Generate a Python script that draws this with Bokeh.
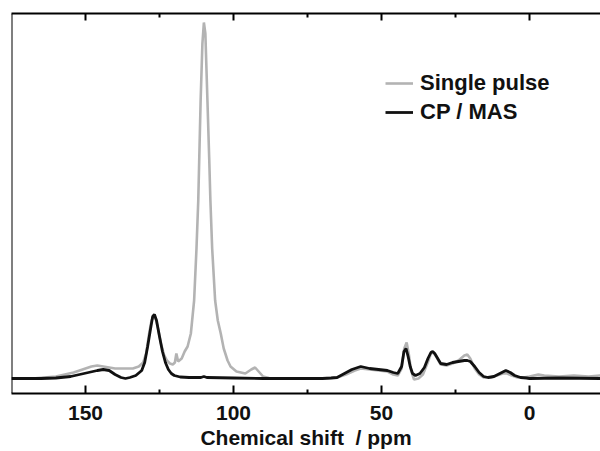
from bokeh.plotting import figure
from bokeh.models import Range1d, FixedTicker, Legend, LegendItem, Span, LinearAxis
from bokeh.embed import file_html
from bokeh.resources import INLINE

# Single pulse spectrum (ppm, intensity in arbitrary units)
sp_ppm = [175, 168, 164, 160, 157, 154, 151, 148, 146, 144, 142, 140, 137, 134, 132, 130.5, 129.5,
          128.5, 127.7, 127, 126.3, 125.5, 124.5, 123.5, 122.5, 121.5, 120.5, 119.8, 119.3, 118.7,
          117.5, 116.5, 115.5, 114.4, 113.3, 112.5, 111.9, 111.1, 110.5, 110.0, 109.5, 108.8, 108.2,
          107.8, 107.2, 106.2, 105.3, 104.3, 103.3, 102, 101, 99, 96, 94, 92.7, 91.5, 90, 88, 80, 70,
          65, 62, 59, 57, 54, 51, 48, 46, 44.5, 43.2, 42.3, 41.5, 40.8, 40, 39, 37.5, 36, 34.5, 33.3,
          32.5, 31.5, 30, 28, 26, 24, 22, 21, 20, 18.5, 17, 15.5, 13, 11, 9, 7.5, 6, 4, 2, 0, -3, -5,
          -10, -15, -20, -24]
sp_int = [0, 0, 1, 2, 4, 6, 9, 12, 13, 12, 11, 10, 10, 10, 12, 16, 25,
          45, 58, 62, 60, 50, 35, 24, 18, 15, 14, 16, 25, 17,
          20, 27, 32, 45, 78, 130, 178, 278, 335, 356, 345, 278, 220,
          178, 130, 78, 58, 45, 30, 18, 12, 7, 5, 9, 11, 7, 2, 0.5, 0, 0,
          1, 4, 8, 10, 9, 8, 7, 4, 3, 10, 30, 36, 25, 8, -1, 0, 4, 15, 25,
          26, 22, 14, 13, 15, 18, 23, 24, 20, 10, 4, 1, 1, 3, 5, 5, 3, 1, 1, 2, 4, 3,
          2, 3, 2, 3]

# CP / MAS spectrum
cp_ppm = [175, 165, 160, 155, 152, 149, 146, 144, 142, 140, 138, 136.5, 135, 133, 131, 130, 129, 128,
          127.3, 126.7, 126, 125, 124, 123, 122, 121, 120, 118, 115, 111, 110, 109, 100, 90, 70, 67,
          65, 62.5, 60, 57, 54, 51, 48, 46, 44.5, 43.2, 42.4, 41.7, 41, 40.3, 39.5, 38.5, 37, 35.5,
          34.3, 33.3, 32.7, 32, 31, 30, 28, 26, 24, 22, 21, 20, 18.5, 17, 15.5, 14, 12, 10, 8, 6.5,
          5, 3, 1, 0, -10, -24]
cp_int = [0, 0, 0.5, 2, 4, 6, 8, 9, 8, 4, 1, 0, 1, 3, 8, 16, 32, 50,
          62, 64, 58, 42, 27, 16, 9, 5, 3, 1.5, 1, 1, 2, 1, 0.5, 0, 0, 0.5,
          1, 5, 9, 12, 10, 9, 8, 6, 5, 12, 27, 30, 22, 12, 5, 3, 5, 11,
          20, 26, 27, 25, 20, 15, 14, 16, 17, 18, 18, 17, 12, 6, 2, 1, 2, 5, 8, 6,
          3, 1, 0.5, 0, 0.5, 0]

major_ticks = [150, 100, 50, 0]
minor_ticks = [125, 75, 25]

X_START, X_END = 175, -24
Y_START, Y_END = -15, 365

FONT = "Liberation Sans"

p = figure(frame_width=589, frame_height=380, output_backend="svg", toolbar_location=None,
           x_range=Range1d(X_START, X_END), y_range=Range1d(Y_START, Y_END),
           y_axis_location=None,
           min_border_left=11, min_border_right=0, min_border_top=13, min_border_bottom=0)
p.title.visible = False
p.outline_line_color = None
p.grid.visible = False
p.background_fill_color = "white"
p.border_fill_color = "white"

r_sp = p.line(sp_ppm, sp_int, line_color="#b3b3b3", line_width=2.6)
r_cp = p.line(cp_ppm, cp_int, line_color="#111111", line_width=2.8)

# left frame edge (the right side is open, as in the original)
p.add_layout(Span(location=X_START, dimension="height", line_color="black", line_width=2))

# bottom axis
xa = p.below[0]
xa.ticker = FixedTicker(ticks=major_ticks, minor_ticks=minor_ticks)
xa.axis_line_width = 2
xa.axis_line_color = "black"
xa.major_tick_in = 8
xa.major_tick_out = 0
xa.minor_tick_in = 4
xa.minor_tick_out = 0
xa.major_tick_line_width = 2
xa.minor_tick_line_width = 2
xa.major_label_text_font = FONT
xa.major_label_text_font_style = "bold"
xa.major_label_text_font_size = "21px"
xa.major_label_text_color = "#111111"
xa.major_label_standoff = 12
xa.axis_label = "Chemical shift\u00a0 / ppm"
xa.axis_label_text_font = FONT
xa.axis_label_text_font_style = "bold"
xa.axis_label_text_font_size = "21px"
xa.axis_label_text_color = "#111111"
xa.axis_label_standoff = 3

# top frame edge with inward ticks and no labels
top = LinearAxis(ticker=FixedTicker(ticks=major_ticks, minor_ticks=minor_ticks))
top.axis_line_width = 2
top.axis_line_color = "black"
top.major_tick_in = 7
top.major_tick_out = 0
top.minor_tick_in = 4
top.minor_tick_out = 0
top.major_tick_line_width = 2
top.minor_tick_line_width = 2
top.major_label_overrides = {t: "" for t in major_ticks}
top.major_label_standoff = 0
p.add_layout(top, "above")

legend = Legend(items=[LegendItem(label="Single pulse", renderers=[r_sp]),
                       LegendItem(label="CP / MAS", renderers=[r_cp])],
                location=(374, 268))
legend.border_line_color = None
legend.background_fill_alpha = 0
legend.padding = 0
legend.margin = 0
legend.spacing = 3
legend.glyph_width = 28
legend.glyph_height = 20
legend.label_height = 20
legend.label_standoff = 7
legend.label_text_font = FONT
legend.label_text_font_style = "bold"
legend.label_text_font_size = "22px"
legend.label_text_color = "#111111"
p.add_layout(legend)

open("out.html", "w").write(file_html(p, INLINE))
